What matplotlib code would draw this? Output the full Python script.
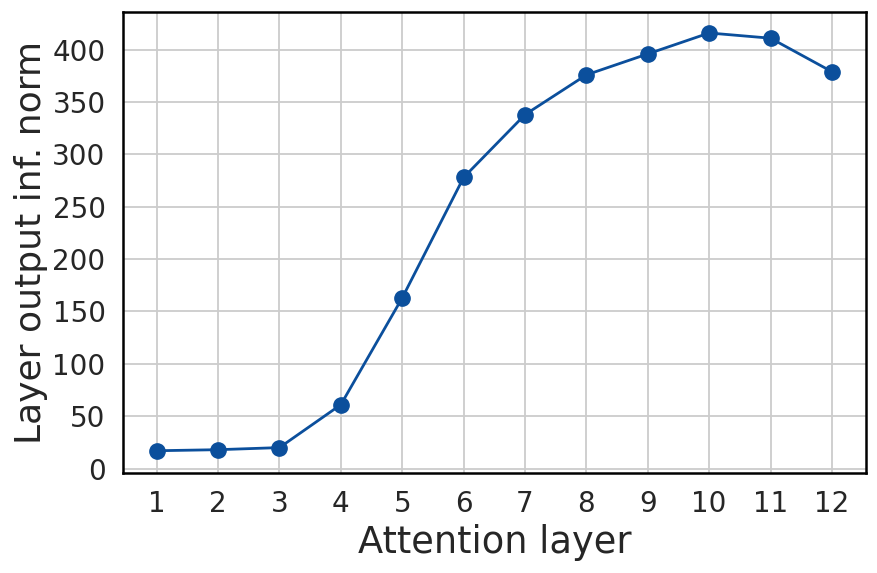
import matplotlib
matplotlib.use('Agg')
import matplotlib.pyplot as plt
import seaborn as sns

layers = [1, 2, 3, 4, 5, 6, 7, 8, 9, 10, 11, 12]
inf_norm = [17, 18, 20, 61, 163, 278, 338, 376, 396, 416, 411, 379]

sns.set_style('whitegrid')
plt.rcParams['font.family'] = ['DejaVu Sans']

fig, ax = plt.subplots(figsize=(8.78, 5.73), dpi=100)
ax.plot(layers, inf_norm, '-o', color='#0b4f9c', lw=2, ms=11)

ax.set_xlim(0.45, 12.55)
ax.set_ylim(-4, 436)
ax.set_xticks(layers)
ax.set_yticks(range(0, 401, 50))
ax.tick_params(labelsize=20, colors='#262626', pad=9)
ax.set_xlabel('Attention layer', fontsize=26.5, color='#262626', labelpad=4)
ax.set_ylabel('Layer output inf. norm', fontsize=26, color='#262626', labelpad=3)
ax.grid(True, color='#cccccc', lw=1.3)
for s in ax.spines.values():
    s.set_color('black')
    s.set_linewidth(1.8)

fig.subplots_adjust(left=0.14, right=0.986, top=0.979, bottom=0.175)
plt.savefig('out.png', format='png')
